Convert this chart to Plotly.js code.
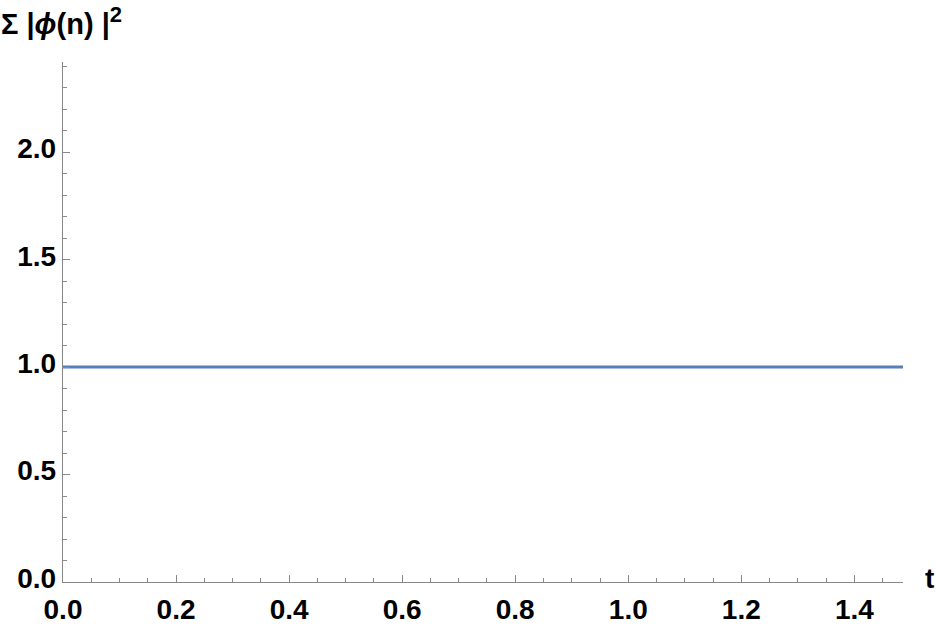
<!DOCTYPE html>
<html>
<head>
<meta charset="utf-8">
<script src="https://cdn.plot.ly/plotly-3.0.1.min.js"></script>
<style>
  body { margin: 0; background: white; }
  #plot { width: 936px; height: 630px; }
</style>
</head>
<body>
<div id="plot"></div>
<script>
// data
var t = [0, 0.2, 0.4, 0.6, 0.8, 1.0, 1.2, 1.4, 1.486];
var normSum = [1.0, 1.0, 1.0, 1.0, 1.0, 1.0, 1.0, 1.0, 1.0];
var xTicks = [0, 0.2, 0.4, 0.6, 0.8, 1.0, 1.2, 1.4];
var xTickText = ['0.0', '0.2', '0.4', '0.6', '0.8', '1.0', '1.2', '1.4'];
var yTicks = [0, 0.5, 1.0, 1.5, 2.0];
var yTickText = ['0.0', '0.5', '1.0', '1.5', '2.0'];

var normTrace = {
  x: t,
  y: normSum,
  type: 'scatter',
  mode: 'lines',
  line: { color: '#5b7db9', width: 3 },
  hoverinfo: 'none'
};

var tickFont = { family: 'Liberation Sans, Arial, sans-serif', size: 28, color: 'black', weight: 'bold' };

var layout = {
  width: 936,
  height: 630,
  margin: { l: 63, r: 33, t: 62, b: 48 },
  paper_bgcolor: 'white',
  plot_bgcolor: 'white',
  showlegend: false,
  xaxis: {
    range: [0, 1.486],
    tickvals: xTicks,
    ticktext: xTickText,
    ticks: 'inside',
    ticklen: 7,
    tickwidth: 1,
    tickcolor: '#888',
    minor: { dtick: 0.05, tick0: 0, ticks: 'inside', ticklen: 4, tickcolor: '#888', showgrid: false },
    showline: true,
    linecolor: '#888',
    linewidth: 1.2,
    showgrid: false,
    zeroline: false,
    tickfont: tickFont,
    ticklabelstandoff: 2
  },
  yaxis: {
    range: [0, 2.42],
    tickvals: yTicks,
    ticktext: yTickText,
    ticks: 'inside',
    ticklen: 7,
    tickwidth: 1,
    tickcolor: '#888',
    minor: { dtick: 0.1, tick0: 0, ticks: 'inside', ticklen: 4, tickcolor: '#888', showgrid: false },
    showline: true,
    linecolor: '#888',
    linewidth: 1.2,
    showgrid: false,
    zeroline: false,
    tickfont: tickFont,
    ticklabelshift: -4
  },
  annotations: [
    {
      text: '<b>Σ |<i>ϕ</i>(n) |<sup><span style="font-size:22px">2</span></sup></b>',
      xref: 'paper', yref: 'paper',
      x: -64 / 840, y: 1 + 62 / 520,
      xanchor: 'left', yanchor: 'top',
      showarrow: false,
      font: { family: 'Liberation Sans, Arial, sans-serif', size: 29, color: 'black' }
    },
    {
      text: '<b>t</b>',
      xref: 'paper', yref: 'paper',
      x: 1 + 20 / 840, y: 4 / 520,
      xanchor: 'left', yanchor: 'middle',
      showarrow: false,
      font: { family: 'Liberation Sans, Arial, sans-serif', size: 28, color: 'black' }
    }
  ]
};

Plotly.newPlot('plot', [normTrace], layout, { displayModeBar: false, staticPlot: true });
</script>
</body>
</html>
